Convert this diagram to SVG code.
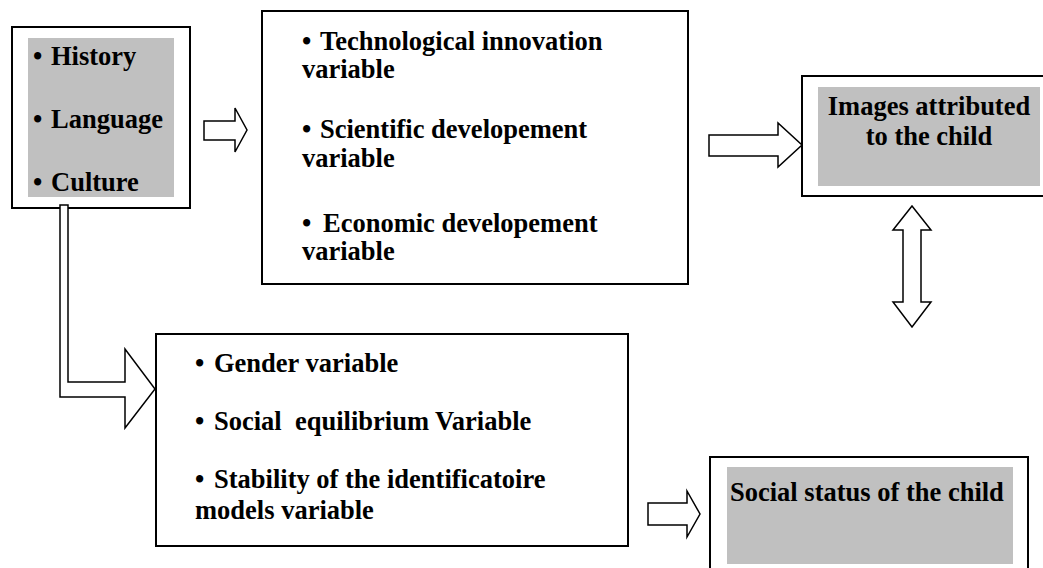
<svg xmlns="http://www.w3.org/2000/svg" width="1043" height="568" viewBox="0 0 1043 568">
  <style>
    .box { fill: #ffffff; stroke: #000000; stroke-width: 2; }
    .shade { fill: #c0c0c0; stroke: none; }
    .arrow { fill: #ffffff; stroke: #000000; stroke-width: 1.5; stroke-linejoin: miter; }
    text { font-family: "Liberation Serif", "Times New Roman", serif; font-weight: bold; font-size: 26.5px; fill: #000000; }
    .mid { text-anchor: middle; }
  </style>

  <rect x="0" y="0" width="1043" height="568" fill="#ffffff"/>

  <!-- block arrows between the boxes -->
  <g id="connectors">
    <path class="arrow" d="M204,121 H235 V108 L247,130 L235,152 V140 H204 Z"/>
    <path class="arrow" d="M709,135 H778 V123 L802,145 L778,167 V156 H709 Z"/>
    <path class="arrow" d="M912,206 L931,230 H921 V302 H931 L912,327 L893,302 H903 V230 H893 Z"/>
    <path class="arrow" d="M648,503 H687 V491 L700,514 L687,537 V525 H648 Z"/>
  </g>

  <g id="roots">
    <rect class="box" x="12" y="27" width="178" height="181"/>
    <rect class="shade" x="28" y="38" width="146" height="159"/>
    <text x="33" y="65">•<tspan x="51">History</tspan></text>
    <text x="33" y="128">•<tspan x="51">Language</tspan></text>
    <text x="33" y="191">•<tspan x="51">Culture</tspan></text>
  </g>

  <!-- elbow arrow from the roots box down to the social variables -->
  <path class="arrow" d="M60,205 H68 V382 H125 V349 L155,389 L125,428 V397 H60 Z"/>

  <g id="development">
    <rect class="box" x="262" y="11" width="426" height="273"/>
    <text x="302" y="50">•<tspan x="320">Technological innovation</tspan></text>
    <text x="302" y="78">variable</text>
    <text x="302" y="138">•<tspan x="320">Scientific developement</tspan></text>
    <text x="302" y="167">variable</text>
    <text x="302" y="232">•<tspan x="323">Economic developement</tspan></text>
    <text x="302" y="260">variable</text>
  </g>

  <g id="social-variables">
    <rect class="box" x="156" y="334" width="472" height="212"/>
    <text x="195" y="372">•<tspan x="214">Gender variable</tspan></text>
    <text x="195" y="430">•<tspan x="214" xml:space="preserve">Social  equilibrium Variable</tspan></text>
    <text x="195" y="488">•<tspan x="214">Stability of the identificatoire</tspan></text>
    <text x="195" y="519">models variable</text>
  </g>

  <g id="images">
    <rect class="box" x="802" y="76" width="250" height="120"/>
    <rect class="shade" x="818" y="87" width="222" height="99"/>
    <text class="mid" x="929" y="115">Images attributed</text>
    <text class="mid" x="929" y="145">to the child</text>
  </g>

  <g id="status">
    <rect class="box" x="710" y="457" width="318" height="120"/>
    <rect class="shade" x="727" y="467" width="286" height="97"/>
    <text x="730" y="501">Social status of the child</text>
  </g>
</svg>
